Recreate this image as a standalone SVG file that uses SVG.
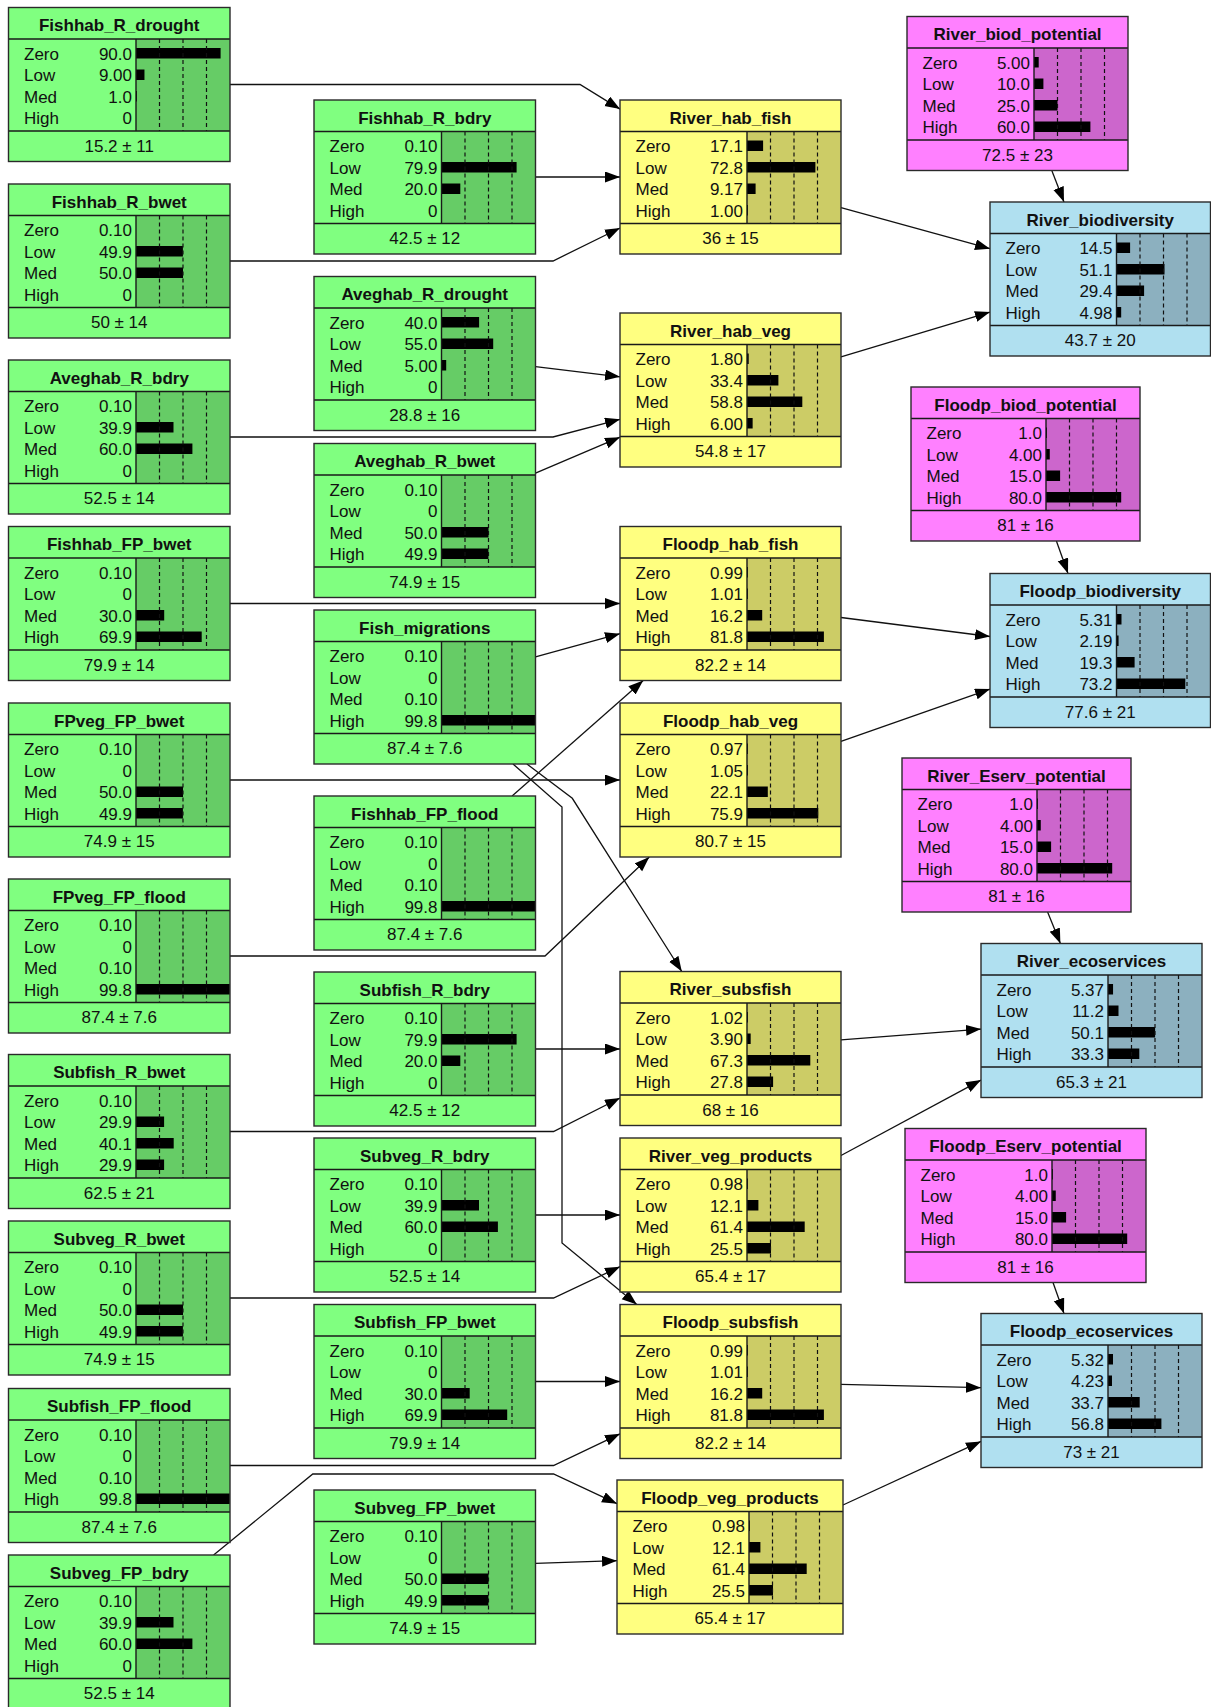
<svg xmlns="http://www.w3.org/2000/svg" width="1211" height="1707" viewBox="0 0 1211 1707">
<defs>
<style>
text{font-family:"Liberation Sans",Arial,sans-serif;font-size:17px;fill:#111}
.t{font-weight:bold;text-anchor:middle}
.v{text-anchor:end}
.f{text-anchor:middle}
.frame{fill:none;stroke:#2a2a2a;stroke-width:1.4}
.sep{fill:none;stroke:#1a1a1a;stroke-width:1.4}
.dash{fill:none;stroke:#111;stroke-width:1.2;stroke-dasharray:4 3}
.bar{fill:#000}
.green .bg{fill:#80ff80}.green .ba{fill:#66cc66}
.yellow .bg{fill:#ffff80}.yellow .ba{fill:#cccc66}
.pink .bg{fill:#ff80ff}.pink .ba{fill:#cc66cc}
.blue .bg{fill:#b0e0f0}.blue .ba{fill:#8cb0bf}
.link{fill:none;stroke:#111;stroke-width:1.3;marker-end:url(#arrow)}
</style>
<marker id="arrow" markerUnits="userSpaceOnUse" markerWidth="16" markerHeight="12" refX="15" refY="5.5" orient="auto"><path d="M0,0L15,5.5L0,11z" fill="#000"/></marker>
</defs>
<rect width="1211" height="1707" fill="#fff"/>

<!-- links between nodes -->
<g id="links">
<path class="link" d="M230,84.5H580L620,109.1"/>
<path class="link" d="M535.5,177H620"/>
<path class="link" d="M230,261H553L620,228"/>
<path class="link" d="M841,207.7L990,248.7"/>
<path class="link" d="M841,356.8L990,312.1"/>
<path class="link" d="M1051.8,170.5L1064,202"/>
<path class="link" d="M535.5,366.7L620,376.8"/>
<path class="link" d="M230,437H553L620,419.3"/>
<path class="link" d="M535.5,473.2L620,437.2"/>
<path class="link" d="M230,603.5H620"/>
<path class="link" d="M535.5,656.8L620,633.7"/>
<path class="link" d="M512.1,796L643.2,680.5"/>
<path class="link" d="M841,617.5L990,636.5"/>
<path class="link" d="M841,741.3L990,689.1"/>
<path class="link" d="M1056.4,541L1068,573.5"/>
<path class="link" d="M230,780H620"/>
<path class="link" d="M230,956H545L649.3,857"/>
<path class="link" d="M526.9,764L572.3,798.3L681.8,971.5"/>
<path class="link" d="M513,764L562,807V1243L636.8,1304.5"/>
<path class="link" d="M535.5,1049H620"/>
<path class="link" d="M230,1131.5H553.5L620,1098"/>
<path class="link" d="M841,1039.9L981,1029.1"/>
<path class="link" d="M841,1155.5L981,1080.1"/>
<path class="link" d="M1047.6,912L1060.4,943.5"/>
<path class="link" d="M535.5,1215H620"/>
<path class="link" d="M230,1298H553.5L620,1266.7"/>
<path class="link" d="M535.5,1381.5H620"/>
<path class="link" d="M230,1465.5H553.5L620,1433.8"/>
<path class="link" d="M213.6,1555L312.8,1474H553.5L617,1503.7"/>
<path class="link" d="M535.5,1563.4L617,1560.7"/>
<path class="link" d="M841,1384.3L981,1387.7"/>
<path class="link" d="M843,1505L981,1441.4"/>
<path class="link" d="M1053,1282.5L1064,1313.5"/>
</g>

<!-- input nodes, left column -->
<g id="Fishhab_R_drought" class="green" transform="translate(8.5,7.5)">
<rect class="bg" width="221.5" height="154"/><rect class="ba" x="127.5" y="31.5" width="94" height="92"/>
<rect class="bar" x="127.5" y="40.5" width="84.6" height="10.5"/><rect class="bar" x="127.5" y="62" width="8.46" height="10.5"/><rect class="bar" x="127.5" y="83.5" width="0.94" height="10.5"/>
<path class="dash" d="M151,31.5V123.5M174.5,31.5V123.5M198,31.5V123.5"/>
<path class="sep" d="M0,31.5H221.5M0,123.5H221.5M127.5,31.5V123.5"/><rect class="frame" width="221.5" height="154"/>
<text class="t" x="110.75" y="23.5">Fishhab_R_drought</text>
<text><tspan x="15.5" y="52">Zero</tspan><tspan x="15.5" y="73.5">Low</tspan><tspan x="15.5" y="95">Med</tspan><tspan x="15.5" y="116.5">High</tspan></text>
<text class="v"><tspan x="123.5" y="52">90.0</tspan><tspan x="123.5" y="73.5">9.00</tspan><tspan x="123.5" y="95">1.0</tspan><tspan x="123.5" y="116.5">0</tspan></text>
<text class="f" x="110.75" y="144">15.2 ± 11</text>
</g>

<g id="Fishhab_R_bwet" class="green" transform="translate(8.5,184)">
<rect class="bg" width="221.5" height="154"/><rect class="ba" x="127.5" y="31.5" width="94" height="92"/>
<rect class="bar" x="127.5" y="62" width="46.9" height="10.5"/><rect class="bar" x="127.5" y="83.5" width="47" height="10.5"/>
<path class="dash" d="M151,31.5V123.5M174.5,31.5V123.5M198,31.5V123.5"/>
<path class="sep" d="M0,31.5H221.5M0,123.5H221.5M127.5,31.5V123.5"/><rect class="frame" width="221.5" height="154"/>
<text class="t" x="110.75" y="23.5">Fishhab_R_bwet</text>
<text><tspan x="15.5" y="52">Zero</tspan><tspan x="15.5" y="73.5">Low</tspan><tspan x="15.5" y="95">Med</tspan><tspan x="15.5" y="116.5">High</tspan></text>
<text class="v"><tspan x="123.5" y="52">0.10</tspan><tspan x="123.5" y="73.5">49.9</tspan><tspan x="123.5" y="95">50.0</tspan><tspan x="123.5" y="116.5">0</tspan></text>
<text class="f" x="110.75" y="144">50 ± 14</text>
</g>

<g id="Aveghab_R_bdry" class="green" transform="translate(8.5,360)">
<rect class="bg" width="221.5" height="154"/><rect class="ba" x="127.5" y="31.5" width="94" height="92"/>
<rect class="bar" x="127.5" y="62" width="37.5" height="10.5"/><rect class="bar" x="127.5" y="83.5" width="56.4" height="10.5"/>
<path class="dash" d="M151,31.5V123.5M174.5,31.5V123.5M198,31.5V123.5"/>
<path class="sep" d="M0,31.5H221.5M0,123.5H221.5M127.5,31.5V123.5"/><rect class="frame" width="221.5" height="154"/>
<text class="t" x="110.75" y="23.5">Aveghab_R_bdry</text>
<text><tspan x="15.5" y="52">Zero</tspan><tspan x="15.5" y="73.5">Low</tspan><tspan x="15.5" y="95">Med</tspan><tspan x="15.5" y="116.5">High</tspan></text>
<text class="v"><tspan x="123.5" y="52">0.10</tspan><tspan x="123.5" y="73.5">39.9</tspan><tspan x="123.5" y="95">60.0</tspan><tspan x="123.5" y="116.5">0</tspan></text>
<text class="f" x="110.75" y="144">52.5 ± 14</text>
</g>

<g id="Fishhab_FP_bwet" class="green" transform="translate(8.5,526.5)">
<rect class="bg" width="221.5" height="154"/><rect class="ba" x="127.5" y="31.5" width="94" height="92"/>
<rect class="bar" x="127.5" y="83.5" width="28.2" height="10.5"/><rect class="bar" x="127.5" y="105" width="65.7" height="10.5"/>
<path class="dash" d="M151,31.5V123.5M174.5,31.5V123.5M198,31.5V123.5"/>
<path class="sep" d="M0,31.5H221.5M0,123.5H221.5M127.5,31.5V123.5"/><rect class="frame" width="221.5" height="154"/>
<text class="t" x="110.75" y="23.5">Fishhab_FP_bwet</text>
<text><tspan x="15.5" y="52">Zero</tspan><tspan x="15.5" y="73.5">Low</tspan><tspan x="15.5" y="95">Med</tspan><tspan x="15.5" y="116.5">High</tspan></text>
<text class="v"><tspan x="123.5" y="52">0.10</tspan><tspan x="123.5" y="73.5">0</tspan><tspan x="123.5" y="95">30.0</tspan><tspan x="123.5" y="116.5">69.9</tspan></text>
<text class="f" x="110.75" y="144">79.9 ± 14</text>
</g>

<g id="FPveg_FP_bwet" class="green" transform="translate(8.5,703)">
<rect class="bg" width="221.5" height="154"/><rect class="ba" x="127.5" y="31.5" width="94" height="92"/>
<rect class="bar" x="127.5" y="83.5" width="47" height="10.5"/><rect class="bar" x="127.5" y="105" width="46.9" height="10.5"/>
<path class="dash" d="M151,31.5V123.5M174.5,31.5V123.5M198,31.5V123.5"/>
<path class="sep" d="M0,31.5H221.5M0,123.5H221.5M127.5,31.5V123.5"/><rect class="frame" width="221.5" height="154"/>
<text class="t" x="110.75" y="23.5">FPveg_FP_bwet</text>
<text><tspan x="15.5" y="52">Zero</tspan><tspan x="15.5" y="73.5">Low</tspan><tspan x="15.5" y="95">Med</tspan><tspan x="15.5" y="116.5">High</tspan></text>
<text class="v"><tspan x="123.5" y="52">0.10</tspan><tspan x="123.5" y="73.5">0</tspan><tspan x="123.5" y="95">50.0</tspan><tspan x="123.5" y="116.5">49.9</tspan></text>
<text class="f" x="110.75" y="144">74.9 ± 15</text>
</g>

<g id="FPveg_FP_flood" class="green" transform="translate(8.5,879)">
<rect class="bg" width="221.5" height="154"/><rect class="ba" x="127.5" y="31.5" width="94" height="92"/>
<rect class="bar" x="127.5" y="105" width="93.8" height="10.5"/>
<path class="dash" d="M151,31.5V123.5M174.5,31.5V123.5M198,31.5V123.5"/>
<path class="sep" d="M0,31.5H221.5M0,123.5H221.5M127.5,31.5V123.5"/><rect class="frame" width="221.5" height="154"/>
<text class="t" x="110.75" y="23.5">FPveg_FP_flood</text>
<text><tspan x="15.5" y="52">Zero</tspan><tspan x="15.5" y="73.5">Low</tspan><tspan x="15.5" y="95">Med</tspan><tspan x="15.5" y="116.5">High</tspan></text>
<text class="v"><tspan x="123.5" y="52">0.10</tspan><tspan x="123.5" y="73.5">0</tspan><tspan x="123.5" y="95">0.10</tspan><tspan x="123.5" y="116.5">99.8</tspan></text>
<text class="f" x="110.75" y="144">87.4 ± 7.6</text>
</g>

<g id="Subfish_R_bwet" class="green" transform="translate(8.5,1054.5)">
<rect class="bg" width="221.5" height="154"/><rect class="ba" x="127.5" y="31.5" width="94" height="92"/>
<rect class="bar" x="127.5" y="62" width="28.1" height="10.5"/><rect class="bar" x="127.5" y="83.5" width="37.7" height="10.5"/><rect class="bar" x="127.5" y="105" width="28.1" height="10.5"/>
<path class="dash" d="M151,31.5V123.5M174.5,31.5V123.5M198,31.5V123.5"/>
<path class="sep" d="M0,31.5H221.5M0,123.5H221.5M127.5,31.5V123.5"/><rect class="frame" width="221.5" height="154"/>
<text class="t" x="110.75" y="23.5">Subfish_R_bwet</text>
<text><tspan x="15.5" y="52">Zero</tspan><tspan x="15.5" y="73.5">Low</tspan><tspan x="15.5" y="95">Med</tspan><tspan x="15.5" y="116.5">High</tspan></text>
<text class="v"><tspan x="123.5" y="52">0.10</tspan><tspan x="123.5" y="73.5">29.9</tspan><tspan x="123.5" y="95">40.1</tspan><tspan x="123.5" y="116.5">29.9</tspan></text>
<text class="f" x="110.75" y="144">62.5 ± 21</text>
</g>

<g id="Subveg_R_bwet" class="green" transform="translate(8.5,1221)">
<rect class="bg" width="221.5" height="154"/><rect class="ba" x="127.5" y="31.5" width="94" height="92"/>
<rect class="bar" x="127.5" y="83.5" width="47" height="10.5"/><rect class="bar" x="127.5" y="105" width="46.9" height="10.5"/>
<path class="dash" d="M151,31.5V123.5M174.5,31.5V123.5M198,31.5V123.5"/>
<path class="sep" d="M0,31.5H221.5M0,123.5H221.5M127.5,31.5V123.5"/><rect class="frame" width="221.5" height="154"/>
<text class="t" x="110.75" y="23.5">Subveg_R_bwet</text>
<text><tspan x="15.5" y="52">Zero</tspan><tspan x="15.5" y="73.5">Low</tspan><tspan x="15.5" y="95">Med</tspan><tspan x="15.5" y="116.5">High</tspan></text>
<text class="v"><tspan x="123.5" y="52">0.10</tspan><tspan x="123.5" y="73.5">0</tspan><tspan x="123.5" y="95">50.0</tspan><tspan x="123.5" y="116.5">49.9</tspan></text>
<text class="f" x="110.75" y="144">74.9 ± 15</text>
</g>

<g id="Subfish_FP_flood" class="green" transform="translate(8.5,1388.5)">
<rect class="bg" width="221.5" height="154"/><rect class="ba" x="127.5" y="31.5" width="94" height="92"/>
<rect class="bar" x="127.5" y="105" width="93.8" height="10.5"/>
<path class="dash" d="M151,31.5V123.5M174.5,31.5V123.5M198,31.5V123.5"/>
<path class="sep" d="M0,31.5H221.5M0,123.5H221.5M127.5,31.5V123.5"/><rect class="frame" width="221.5" height="154"/>
<text class="t" x="110.75" y="23.5">Subfish_FP_flood</text>
<text><tspan x="15.5" y="52">Zero</tspan><tspan x="15.5" y="73.5">Low</tspan><tspan x="15.5" y="95">Med</tspan><tspan x="15.5" y="116.5">High</tspan></text>
<text class="v"><tspan x="123.5" y="52">0.10</tspan><tspan x="123.5" y="73.5">0</tspan><tspan x="123.5" y="95">0.10</tspan><tspan x="123.5" y="116.5">99.8</tspan></text>
<text class="f" x="110.75" y="144">87.4 ± 7.6</text>
</g>

<g id="Subveg_FP_bdry" class="green" transform="translate(8.5,1555)">
<rect class="bg" width="221.5" height="154"/><rect class="ba" x="127.5" y="31.5" width="94" height="92"/>
<rect class="bar" x="127.5" y="62" width="37.5" height="10.5"/><rect class="bar" x="127.5" y="83.5" width="56.4" height="10.5"/>
<path class="dash" d="M151,31.5V123.5M174.5,31.5V123.5M198,31.5V123.5"/>
<path class="sep" d="M0,31.5H221.5M0,123.5H221.5M127.5,31.5V123.5"/><rect class="frame" width="221.5" height="154"/>
<text class="t" x="110.75" y="23.5">Subveg_FP_bdry</text>
<text><tspan x="15.5" y="52">Zero</tspan><tspan x="15.5" y="73.5">Low</tspan><tspan x="15.5" y="95">Med</tspan><tspan x="15.5" y="116.5">High</tspan></text>
<text class="v"><tspan x="123.5" y="52">0.10</tspan><tspan x="123.5" y="73.5">39.9</tspan><tspan x="123.5" y="95">60.0</tspan><tspan x="123.5" y="116.5">0</tspan></text>
<text class="f" x="110.75" y="144">52.5 ± 14</text>
</g>

<!-- input nodes, second column -->
<g id="Fishhab_R_bdry" class="green" transform="translate(314,100)">
<rect class="bg" width="221.5" height="154"/><rect class="ba" x="127.5" y="31.5" width="94" height="92"/>
<rect class="bar" x="127.5" y="62" width="75.1" height="10.5"/><rect class="bar" x="127.5" y="83.5" width="18.8" height="10.5"/>
<path class="dash" d="M151,31.5V123.5M174.5,31.5V123.5M198,31.5V123.5"/>
<path class="sep" d="M0,31.5H221.5M0,123.5H221.5M127.5,31.5V123.5"/><rect class="frame" width="221.5" height="154"/>
<text class="t" x="110.75" y="23.5">Fishhab_R_bdry</text>
<text><tspan x="15.5" y="52">Zero</tspan><tspan x="15.5" y="73.5">Low</tspan><tspan x="15.5" y="95">Med</tspan><tspan x="15.5" y="116.5">High</tspan></text>
<text class="v"><tspan x="123.5" y="52">0.10</tspan><tspan x="123.5" y="73.5">79.9</tspan><tspan x="123.5" y="95">20.0</tspan><tspan x="123.5" y="116.5">0</tspan></text>
<text class="f" x="110.75" y="144">42.5 ± 12</text>
</g>

<g id="Aveghab_R_drought" class="green" transform="translate(314,276.5)">
<rect class="bg" width="221.5" height="154"/><rect class="ba" x="127.5" y="31.5" width="94" height="92"/>
<rect class="bar" x="127.5" y="40.5" width="37.6" height="10.5"/><rect class="bar" x="127.5" y="62" width="51.7" height="10.5"/><rect class="bar" x="127.5" y="83.5" width="4.7" height="10.5"/>
<path class="dash" d="M151,31.5V123.5M174.5,31.5V123.5M198,31.5V123.5"/>
<path class="sep" d="M0,31.5H221.5M0,123.5H221.5M127.5,31.5V123.5"/><rect class="frame" width="221.5" height="154"/>
<text class="t" x="110.75" y="23.5">Aveghab_R_drought</text>
<text><tspan x="15.5" y="52">Zero</tspan><tspan x="15.5" y="73.5">Low</tspan><tspan x="15.5" y="95">Med</tspan><tspan x="15.5" y="116.5">High</tspan></text>
<text class="v"><tspan x="123.5" y="52">40.0</tspan><tspan x="123.5" y="73.5">55.0</tspan><tspan x="123.5" y="95">5.00</tspan><tspan x="123.5" y="116.5">0</tspan></text>
<text class="f" x="110.75" y="144">28.8 ± 16</text>
</g>

<g id="Aveghab_R_bwet" class="green" transform="translate(314,443.5)">
<rect class="bg" width="221.5" height="154"/><rect class="ba" x="127.5" y="31.5" width="94" height="92"/>
<rect class="bar" x="127.5" y="83.5" width="47" height="10.5"/><rect class="bar" x="127.5" y="105" width="46.9" height="10.5"/>
<path class="dash" d="M151,31.5V123.5M174.5,31.5V123.5M198,31.5V123.5"/>
<path class="sep" d="M0,31.5H221.5M0,123.5H221.5M127.5,31.5V123.5"/><rect class="frame" width="221.5" height="154"/>
<text class="t" x="110.75" y="23.5">Aveghab_R_bwet</text>
<text><tspan x="15.5" y="52">Zero</tspan><tspan x="15.5" y="73.5">Low</tspan><tspan x="15.5" y="95">Med</tspan><tspan x="15.5" y="116.5">High</tspan></text>
<text class="v"><tspan x="123.5" y="52">0.10</tspan><tspan x="123.5" y="73.5">0</tspan><tspan x="123.5" y="95">50.0</tspan><tspan x="123.5" y="116.5">49.9</tspan></text>
<text class="f" x="110.75" y="144">74.9 ± 15</text>
</g>

<g id="Fish_migrations" class="green" transform="translate(314,610)">
<rect class="bg" width="221.5" height="154"/><rect class="ba" x="127.5" y="31.5" width="94" height="92"/>
<rect class="bar" x="127.5" y="105" width="93.8" height="10.5"/>
<path class="dash" d="M151,31.5V123.5M174.5,31.5V123.5M198,31.5V123.5"/>
<path class="sep" d="M0,31.5H221.5M0,123.5H221.5M127.5,31.5V123.5"/><rect class="frame" width="221.5" height="154"/>
<text class="t" x="110.75" y="23.5">Fish_migrations</text>
<text><tspan x="15.5" y="52">Zero</tspan><tspan x="15.5" y="73.5">Low</tspan><tspan x="15.5" y="95">Med</tspan><tspan x="15.5" y="116.5">High</tspan></text>
<text class="v"><tspan x="123.5" y="52">0.10</tspan><tspan x="123.5" y="73.5">0</tspan><tspan x="123.5" y="95">0.10</tspan><tspan x="123.5" y="116.5">99.8</tspan></text>
<text class="f" x="110.75" y="144">87.4 ± 7.6</text>
</g>

<g id="Fishhab_FP_flood" class="green" transform="translate(314,796)">
<rect class="bg" width="221.5" height="154"/><rect class="ba" x="127.5" y="31.5" width="94" height="92"/>
<rect class="bar" x="127.5" y="105" width="93.8" height="10.5"/>
<path class="dash" d="M151,31.5V123.5M174.5,31.5V123.5M198,31.5V123.5"/>
<path class="sep" d="M0,31.5H221.5M0,123.5H221.5M127.5,31.5V123.5"/><rect class="frame" width="221.5" height="154"/>
<text class="t" x="110.75" y="23.5">Fishhab_FP_flood</text>
<text><tspan x="15.5" y="52">Zero</tspan><tspan x="15.5" y="73.5">Low</tspan><tspan x="15.5" y="95">Med</tspan><tspan x="15.5" y="116.5">High</tspan></text>
<text class="v"><tspan x="123.5" y="52">0.10</tspan><tspan x="123.5" y="73.5">0</tspan><tspan x="123.5" y="95">0.10</tspan><tspan x="123.5" y="116.5">99.8</tspan></text>
<text class="f" x="110.75" y="144">87.4 ± 7.6</text>
</g>

<g id="Subfish_R_bdry" class="green" transform="translate(314,972)">
<rect class="bg" width="221.5" height="154"/><rect class="ba" x="127.5" y="31.5" width="94" height="92"/>
<rect class="bar" x="127.5" y="62" width="75.1" height="10.5"/><rect class="bar" x="127.5" y="83.5" width="18.8" height="10.5"/>
<path class="dash" d="M151,31.5V123.5M174.5,31.5V123.5M198,31.5V123.5"/>
<path class="sep" d="M0,31.5H221.5M0,123.5H221.5M127.5,31.5V123.5"/><rect class="frame" width="221.5" height="154"/>
<text class="t" x="110.75" y="23.5">Subfish_R_bdry</text>
<text><tspan x="15.5" y="52">Zero</tspan><tspan x="15.5" y="73.5">Low</tspan><tspan x="15.5" y="95">Med</tspan><tspan x="15.5" y="116.5">High</tspan></text>
<text class="v"><tspan x="123.5" y="52">0.10</tspan><tspan x="123.5" y="73.5">79.9</tspan><tspan x="123.5" y="95">20.0</tspan><tspan x="123.5" y="116.5">0</tspan></text>
<text class="f" x="110.75" y="144">42.5 ± 12</text>
</g>

<g id="Subveg_R_bdry" class="green" transform="translate(314,1138)">
<rect class="bg" width="221.5" height="154"/><rect class="ba" x="127.5" y="31.5" width="94" height="92"/>
<rect class="bar" x="127.5" y="62" width="37.5" height="10.5"/><rect class="bar" x="127.5" y="83.5" width="56.4" height="10.5"/>
<path class="dash" d="M151,31.5V123.5M174.5,31.5V123.5M198,31.5V123.5"/>
<path class="sep" d="M0,31.5H221.5M0,123.5H221.5M127.5,31.5V123.5"/><rect class="frame" width="221.5" height="154"/>
<text class="t" x="110.75" y="23.5">Subveg_R_bdry</text>
<text><tspan x="15.5" y="52">Zero</tspan><tspan x="15.5" y="73.5">Low</tspan><tspan x="15.5" y="95">Med</tspan><tspan x="15.5" y="116.5">High</tspan></text>
<text class="v"><tspan x="123.5" y="52">0.10</tspan><tspan x="123.5" y="73.5">39.9</tspan><tspan x="123.5" y="95">60.0</tspan><tspan x="123.5" y="116.5">0</tspan></text>
<text class="f" x="110.75" y="144">52.5 ± 14</text>
</g>

<g id="Subfish_FP_bwet" class="green" transform="translate(314,1304.5)">
<rect class="bg" width="221.5" height="154"/><rect class="ba" x="127.5" y="31.5" width="94" height="92"/>
<rect class="bar" x="127.5" y="83.5" width="28.2" height="10.5"/><rect class="bar" x="127.5" y="105" width="65.7" height="10.5"/>
<path class="dash" d="M151,31.5V123.5M174.5,31.5V123.5M198,31.5V123.5"/>
<path class="sep" d="M0,31.5H221.5M0,123.5H221.5M127.5,31.5V123.5"/><rect class="frame" width="221.5" height="154"/>
<text class="t" x="110.75" y="23.5">Subfish_FP_bwet</text>
<text><tspan x="15.5" y="52">Zero</tspan><tspan x="15.5" y="73.5">Low</tspan><tspan x="15.5" y="95">Med</tspan><tspan x="15.5" y="116.5">High</tspan></text>
<text class="v"><tspan x="123.5" y="52">0.10</tspan><tspan x="123.5" y="73.5">0</tspan><tspan x="123.5" y="95">30.0</tspan><tspan x="123.5" y="116.5">69.9</tspan></text>
<text class="f" x="110.75" y="144">79.9 ± 14</text>
</g>

<g id="Subveg_FP_bwet" class="green" transform="translate(314,1490)">
<rect class="bg" width="221.5" height="154"/><rect class="ba" x="127.5" y="31.5" width="94" height="92"/>
<rect class="bar" x="127.5" y="83.5" width="47" height="10.5"/><rect class="bar" x="127.5" y="105" width="46.9" height="10.5"/>
<path class="dash" d="M151,31.5V123.5M174.5,31.5V123.5M198,31.5V123.5"/>
<path class="sep" d="M0,31.5H221.5M0,123.5H221.5M127.5,31.5V123.5"/><rect class="frame" width="221.5" height="154"/>
<text class="t" x="110.75" y="23.5">Subveg_FP_bwet</text>
<text><tspan x="15.5" y="52">Zero</tspan><tspan x="15.5" y="73.5">Low</tspan><tspan x="15.5" y="95">Med</tspan><tspan x="15.5" y="116.5">High</tspan></text>
<text class="v"><tspan x="123.5" y="52">0.10</tspan><tspan x="123.5" y="73.5">0</tspan><tspan x="123.5" y="95">50.0</tspan><tspan x="123.5" y="116.5">49.9</tspan></text>
<text class="f" x="110.75" y="144">74.9 ± 15</text>
</g>

<!-- habitat and product nodes -->
<g id="River_hab_fish" class="yellow" transform="translate(620,100)">
<rect class="bg" width="221" height="154"/><rect class="ba" x="127" y="31.5" width="94" height="92"/>
<rect class="bar" x="127" y="40.5" width="16.1" height="10.5"/><rect class="bar" x="127" y="62" width="68.4" height="10.5"/><rect class="bar" x="127" y="83.5" width="8.6" height="10.5"/><rect class="bar" x="127" y="105" width="0.94" height="10.5"/>
<path class="dash" d="M150.5,31.5V123.5M174,31.5V123.5M197.5,31.5V123.5"/>
<path class="sep" d="M0,31.5H221M0,123.5H221M127,31.5V123.5"/><rect class="frame" width="221" height="154"/>
<text class="t" x="110.5" y="23.5">River_hab_fish</text>
<text><tspan x="15.5" y="52">Zero</tspan><tspan x="15.5" y="73.5">Low</tspan><tspan x="15.5" y="95">Med</tspan><tspan x="15.5" y="116.5">High</tspan></text>
<text class="v"><tspan x="123" y="52">17.1</tspan><tspan x="123" y="73.5">72.8</tspan><tspan x="123" y="95">9.17</tspan><tspan x="123" y="116.5">1.00</tspan></text>
<text class="f" x="110.5" y="144">36 ± 15</text>
</g>

<g id="River_hab_veg" class="yellow" transform="translate(620,313)">
<rect class="bg" width="221" height="154"/><rect class="ba" x="127" y="31.5" width="94" height="92"/>
<rect class="bar" x="127" y="40.5" width="1.7" height="10.5"/><rect class="bar" x="127" y="62" width="31.4" height="10.5"/><rect class="bar" x="127" y="83.5" width="55.3" height="10.5"/><rect class="bar" x="127" y="105" width="5.64" height="10.5"/>
<path class="dash" d="M150.5,31.5V123.5M174,31.5V123.5M197.5,31.5V123.5"/>
<path class="sep" d="M0,31.5H221M0,123.5H221M127,31.5V123.5"/><rect class="frame" width="221" height="154"/>
<text class="t" x="110.5" y="23.5">River_hab_veg</text>
<text><tspan x="15.5" y="52">Zero</tspan><tspan x="15.5" y="73.5">Low</tspan><tspan x="15.5" y="95">Med</tspan><tspan x="15.5" y="116.5">High</tspan></text>
<text class="v"><tspan x="123" y="52">1.80</tspan><tspan x="123" y="73.5">33.4</tspan><tspan x="123" y="95">58.8</tspan><tspan x="123" y="116.5">6.00</tspan></text>
<text class="f" x="110.5" y="144">54.8 ± 17</text>
</g>

<g id="Floodp_hab_fish" class="yellow" transform="translate(620,526.5)">
<rect class="bg" width="221" height="154"/><rect class="ba" x="127" y="31.5" width="94" height="92"/>
<rect class="bar" x="127" y="40.5" width="0.93" height="10.5"/><rect class="bar" x="127" y="62" width="0.95" height="10.5"/><rect class="bar" x="127" y="83.5" width="15.2" height="10.5"/><rect class="bar" x="127" y="105" width="76.9" height="10.5"/>
<path class="dash" d="M150.5,31.5V123.5M174,31.5V123.5M197.5,31.5V123.5"/>
<path class="sep" d="M0,31.5H221M0,123.5H221M127,31.5V123.5"/><rect class="frame" width="221" height="154"/>
<text class="t" x="110.5" y="23.5">Floodp_hab_fish</text>
<text><tspan x="15.5" y="52">Zero</tspan><tspan x="15.5" y="73.5">Low</tspan><tspan x="15.5" y="95">Med</tspan><tspan x="15.5" y="116.5">High</tspan></text>
<text class="v"><tspan x="123" y="52">0.99</tspan><tspan x="123" y="73.5">1.01</tspan><tspan x="123" y="95">16.2</tspan><tspan x="123" y="116.5">81.8</tspan></text>
<text class="f" x="110.5" y="144">82.2 ± 14</text>
</g>

<g id="Floodp_hab_veg" class="yellow" transform="translate(620,703)">
<rect class="bg" width="221" height="154"/><rect class="ba" x="127" y="31.5" width="94" height="92"/>
<rect class="bar" x="127" y="40.5" width="0.91" height="10.5"/><rect class="bar" x="127" y="62" width="0.99" height="10.5"/><rect class="bar" x="127" y="83.5" width="20.8" height="10.5"/><rect class="bar" x="127" y="105" width="71.3" height="10.5"/>
<path class="dash" d="M150.5,31.5V123.5M174,31.5V123.5M197.5,31.5V123.5"/>
<path class="sep" d="M0,31.5H221M0,123.5H221M127,31.5V123.5"/><rect class="frame" width="221" height="154"/>
<text class="t" x="110.5" y="23.5">Floodp_hab_veg</text>
<text><tspan x="15.5" y="52">Zero</tspan><tspan x="15.5" y="73.5">Low</tspan><tspan x="15.5" y="95">Med</tspan><tspan x="15.5" y="116.5">High</tspan></text>
<text class="v"><tspan x="123" y="52">0.97</tspan><tspan x="123" y="73.5">1.05</tspan><tspan x="123" y="95">22.1</tspan><tspan x="123" y="116.5">75.9</tspan></text>
<text class="f" x="110.5" y="144">80.7 ± 15</text>
</g>

<g id="River_subsfish" class="yellow" transform="translate(620,971.5)">
<rect class="bg" width="221" height="154"/><rect class="ba" x="127" y="31.5" width="94" height="92"/>
<rect class="bar" x="127" y="40.5" width="0.96" height="10.5"/><rect class="bar" x="127" y="62" width="3.67" height="10.5"/><rect class="bar" x="127" y="83.5" width="63.3" height="10.5"/><rect class="bar" x="127" y="105" width="26.1" height="10.5"/>
<path class="dash" d="M150.5,31.5V123.5M174,31.5V123.5M197.5,31.5V123.5"/>
<path class="sep" d="M0,31.5H221M0,123.5H221M127,31.5V123.5"/><rect class="frame" width="221" height="154"/>
<text class="t" x="110.5" y="23.5">River_subsfish</text>
<text><tspan x="15.5" y="52">Zero</tspan><tspan x="15.5" y="73.5">Low</tspan><tspan x="15.5" y="95">Med</tspan><tspan x="15.5" y="116.5">High</tspan></text>
<text class="v"><tspan x="123" y="52">1.02</tspan><tspan x="123" y="73.5">3.90</tspan><tspan x="123" y="95">67.3</tspan><tspan x="123" y="116.5">27.8</tspan></text>
<text class="f" x="110.5" y="144">68 ± 16</text>
</g>

<g id="River_veg_products" class="yellow" transform="translate(620,1138)">
<rect class="bg" width="221" height="154"/><rect class="ba" x="127" y="31.5" width="94" height="92"/>
<rect class="bar" x="127" y="40.5" width="0.92" height="10.5"/><rect class="bar" x="127" y="62" width="11.4" height="10.5"/><rect class="bar" x="127" y="83.5" width="57.7" height="10.5"/><rect class="bar" x="127" y="105" width="24" height="10.5"/>
<path class="dash" d="M150.5,31.5V123.5M174,31.5V123.5M197.5,31.5V123.5"/>
<path class="sep" d="M0,31.5H221M0,123.5H221M127,31.5V123.5"/><rect class="frame" width="221" height="154"/>
<text class="t" x="110.5" y="23.5">River_veg_products</text>
<text><tspan x="15.5" y="52">Zero</tspan><tspan x="15.5" y="73.5">Low</tspan><tspan x="15.5" y="95">Med</tspan><tspan x="15.5" y="116.5">High</tspan></text>
<text class="v"><tspan x="123" y="52">0.98</tspan><tspan x="123" y="73.5">12.1</tspan><tspan x="123" y="95">61.4</tspan><tspan x="123" y="116.5">25.5</tspan></text>
<text class="f" x="110.5" y="144">65.4 ± 17</text>
</g>

<g id="Floodp_subsfish" class="yellow" transform="translate(620,1304.5)">
<rect class="bg" width="221" height="154"/><rect class="ba" x="127" y="31.5" width="94" height="92"/>
<rect class="bar" x="127" y="40.5" width="0.93" height="10.5"/><rect class="bar" x="127" y="62" width="0.95" height="10.5"/><rect class="bar" x="127" y="83.5" width="15.2" height="10.5"/><rect class="bar" x="127" y="105" width="76.9" height="10.5"/>
<path class="dash" d="M150.5,31.5V123.5M174,31.5V123.5M197.5,31.5V123.5"/>
<path class="sep" d="M0,31.5H221M0,123.5H221M127,31.5V123.5"/><rect class="frame" width="221" height="154"/>
<text class="t" x="110.5" y="23.5">Floodp_subsfish</text>
<text><tspan x="15.5" y="52">Zero</tspan><tspan x="15.5" y="73.5">Low</tspan><tspan x="15.5" y="95">Med</tspan><tspan x="15.5" y="116.5">High</tspan></text>
<text class="v"><tspan x="123" y="52">0.99</tspan><tspan x="123" y="73.5">1.01</tspan><tspan x="123" y="95">16.2</tspan><tspan x="123" y="116.5">81.8</tspan></text>
<text class="f" x="110.5" y="144">82.2 ± 14</text>
</g>

<g id="Floodp_veg_products" class="yellow" transform="translate(617,1480)">
<rect class="bg" width="226" height="154"/><rect class="ba" x="132" y="31.5" width="94" height="92"/>
<rect class="bar" x="132" y="40.5" width="0.92" height="10.5"/><rect class="bar" x="132" y="62" width="11.4" height="10.5"/><rect class="bar" x="132" y="83.5" width="57.7" height="10.5"/><rect class="bar" x="132" y="105" width="24" height="10.5"/>
<path class="dash" d="M155.5,31.5V123.5M179,31.5V123.5M202.5,31.5V123.5"/>
<path class="sep" d="M0,31.5H226M0,123.5H226M132,31.5V123.5"/><rect class="frame" width="226" height="154"/>
<text class="t" x="113" y="23.5">Floodp_veg_products</text>
<text><tspan x="15.5" y="52">Zero</tspan><tspan x="15.5" y="73.5">Low</tspan><tspan x="15.5" y="95">Med</tspan><tspan x="15.5" y="116.5">High</tspan></text>
<text class="v"><tspan x="128" y="52">0.98</tspan><tspan x="128" y="73.5">12.1</tspan><tspan x="128" y="95">61.4</tspan><tspan x="128" y="116.5">25.5</tspan></text>
<text class="f" x="113" y="144">65.4 ± 17</text>
</g>

<!-- potential nodes -->
<g id="River_biod_potential" class="pink" transform="translate(907,16.5)">
<rect class="bg" width="221" height="154"/><rect class="ba" x="127" y="31.5" width="94" height="92"/>
<rect class="bar" x="127" y="40.5" width="4.7" height="10.5"/><rect class="bar" x="127" y="62" width="9.4" height="10.5"/><rect class="bar" x="127" y="83.5" width="23.5" height="10.5"/><rect class="bar" x="127" y="105" width="56.4" height="10.5"/>
<path class="dash" d="M150.5,31.5V123.5M174,31.5V123.5M197.5,31.5V123.5"/>
<path class="sep" d="M0,31.5H221M0,123.5H221M127,31.5V123.5"/><rect class="frame" width="221" height="154"/>
<text class="t" x="110.5" y="23.5">River_biod_potential</text>
<text><tspan x="15.5" y="52">Zero</tspan><tspan x="15.5" y="73.5">Low</tspan><tspan x="15.5" y="95">Med</tspan><tspan x="15.5" y="116.5">High</tspan></text>
<text class="v"><tspan x="123" y="52">5.00</tspan><tspan x="123" y="73.5">10.0</tspan><tspan x="123" y="95">25.0</tspan><tspan x="123" y="116.5">60.0</tspan></text>
<text class="f" x="110.5" y="144">72.5 ± 23</text>
</g>

<g id="Floodp_biod_potential" class="pink" transform="translate(911,387)">
<rect class="bg" width="229" height="154"/><rect class="ba" x="135" y="31.5" width="94" height="92"/>
<rect class="bar" x="135" y="40.5" width="0.94" height="10.5"/><rect class="bar" x="135" y="62" width="3.76" height="10.5"/><rect class="bar" x="135" y="83.5" width="14.1" height="10.5"/><rect class="bar" x="135" y="105" width="75.2" height="10.5"/>
<path class="dash" d="M158.5,31.5V123.5M182,31.5V123.5M205.5,31.5V123.5"/>
<path class="sep" d="M0,31.5H229M0,123.5H229M135,31.5V123.5"/><rect class="frame" width="229" height="154"/>
<text class="t" x="114.5" y="23.5">Floodp_biod_potential</text>
<text><tspan x="15.5" y="52">Zero</tspan><tspan x="15.5" y="73.5">Low</tspan><tspan x="15.5" y="95">Med</tspan><tspan x="15.5" y="116.5">High</tspan></text>
<text class="v"><tspan x="131" y="52">1.0</tspan><tspan x="131" y="73.5">4.00</tspan><tspan x="131" y="95">15.0</tspan><tspan x="131" y="116.5">80.0</tspan></text>
<text class="f" x="114.5" y="144">81 ± 16</text>
</g>

<g id="River_Eserv_potential" class="pink" transform="translate(902,758)">
<rect class="bg" width="229" height="154"/><rect class="ba" x="135" y="31.5" width="94" height="92"/>
<rect class="bar" x="135" y="40.5" width="0.94" height="10.5"/><rect class="bar" x="135" y="62" width="3.76" height="10.5"/><rect class="bar" x="135" y="83.5" width="14.1" height="10.5"/><rect class="bar" x="135" y="105" width="75.2" height="10.5"/>
<path class="dash" d="M158.5,31.5V123.5M182,31.5V123.5M205.5,31.5V123.5"/>
<path class="sep" d="M0,31.5H229M0,123.5H229M135,31.5V123.5"/><rect class="frame" width="229" height="154"/>
<text class="t" x="114.5" y="23.5">River_Eserv_potential</text>
<text><tspan x="15.5" y="52">Zero</tspan><tspan x="15.5" y="73.5">Low</tspan><tspan x="15.5" y="95">Med</tspan><tspan x="15.5" y="116.5">High</tspan></text>
<text class="v"><tspan x="131" y="52">1.0</tspan><tspan x="131" y="73.5">4.00</tspan><tspan x="131" y="95">15.0</tspan><tspan x="131" y="116.5">80.0</tspan></text>
<text class="f" x="114.5" y="144">81 ± 16</text>
</g>

<g id="Floodp_Eserv_potential" class="pink" transform="translate(905,1128.5)">
<rect class="bg" width="241" height="154"/><rect class="ba" x="147" y="31.5" width="94" height="92"/>
<rect class="bar" x="147" y="40.5" width="0.94" height="10.5"/><rect class="bar" x="147" y="62" width="3.76" height="10.5"/><rect class="bar" x="147" y="83.5" width="14.1" height="10.5"/><rect class="bar" x="147" y="105" width="75.2" height="10.5"/>
<path class="dash" d="M170.5,31.5V123.5M194,31.5V123.5M217.5,31.5V123.5"/>
<path class="sep" d="M0,31.5H241M0,123.5H241M147,31.5V123.5"/><rect class="frame" width="241" height="154"/>
<text class="t" x="120.5" y="23.5">Floodp_Eserv_potential</text>
<text><tspan x="15.5" y="52">Zero</tspan><tspan x="15.5" y="73.5">Low</tspan><tspan x="15.5" y="95">Med</tspan><tspan x="15.5" y="116.5">High</tspan></text>
<text class="v"><tspan x="143" y="52">1.0</tspan><tspan x="143" y="73.5">4.00</tspan><tspan x="143" y="95">15.0</tspan><tspan x="143" y="116.5">80.0</tspan></text>
<text class="f" x="120.5" y="144">81 ± 16</text>
</g>

<!-- outcome nodes -->
<g id="River_biodiversity" class="blue" transform="translate(990,202)">
<rect class="bg" width="220.5" height="154"/><rect class="ba" x="126.5" y="31.5" width="94" height="92"/>
<rect class="bar" x="126.5" y="40.5" width="13.6" height="10.5"/><rect class="bar" x="126.5" y="62" width="48" height="10.5"/><rect class="bar" x="126.5" y="83.5" width="27.6" height="10.5"/><rect class="bar" x="126.5" y="105" width="4.68" height="10.5"/>
<path class="dash" d="M150,31.5V123.5M173.5,31.5V123.5M197,31.5V123.5"/>
<path class="sep" d="M0,31.5H220.5M0,123.5H220.5M126.5,31.5V123.5"/><rect class="frame" width="220.5" height="154"/>
<text class="t" x="110.25" y="23.5">River_biodiversity</text>
<text><tspan x="15.5" y="52">Zero</tspan><tspan x="15.5" y="73.5">Low</tspan><tspan x="15.5" y="95">Med</tspan><tspan x="15.5" y="116.5">High</tspan></text>
<text class="v"><tspan x="122.5" y="52">14.5</tspan><tspan x="122.5" y="73.5">51.1</tspan><tspan x="122.5" y="95">29.4</tspan><tspan x="122.5" y="116.5">4.98</tspan></text>
<text class="f" x="110.25" y="144">43.7 ± 20</text>
</g>

<g id="Floodp_biodiversity" class="blue" transform="translate(990,573.5)">
<rect class="bg" width="220.5" height="154"/><rect class="ba" x="126.5" y="31.5" width="94" height="92"/>
<rect class="bar" x="126.5" y="40.5" width="4.99" height="10.5"/><rect class="bar" x="126.5" y="62" width="2.06" height="10.5"/><rect class="bar" x="126.5" y="83.5" width="18.1" height="10.5"/><rect class="bar" x="126.5" y="105" width="68.8" height="10.5"/>
<path class="dash" d="M150,31.5V123.5M173.5,31.5V123.5M197,31.5V123.5"/>
<path class="sep" d="M0,31.5H220.5M0,123.5H220.5M126.5,31.5V123.5"/><rect class="frame" width="220.5" height="154"/>
<text class="t" x="110.25" y="23.5">Floodp_biodiversity</text>
<text><tspan x="15.5" y="52">Zero</tspan><tspan x="15.5" y="73.5">Low</tspan><tspan x="15.5" y="95">Med</tspan><tspan x="15.5" y="116.5">High</tspan></text>
<text class="v"><tspan x="122.5" y="52">5.31</tspan><tspan x="122.5" y="73.5">2.19</tspan><tspan x="122.5" y="95">19.3</tspan><tspan x="122.5" y="116.5">73.2</tspan></text>
<text class="f" x="110.25" y="144">77.6 ± 21</text>
</g>

<g id="River_ecoservices" class="blue" transform="translate(981,943.5)">
<rect class="bg" width="221" height="154"/><rect class="ba" x="127" y="31.5" width="94" height="92"/>
<rect class="bar" x="127" y="40.5" width="5.05" height="10.5"/><rect class="bar" x="127" y="62" width="10.5" height="10.5"/><rect class="bar" x="127" y="83.5" width="47.1" height="10.5"/><rect class="bar" x="127" y="105" width="31.3" height="10.5"/>
<path class="dash" d="M150.5,31.5V123.5M174,31.5V123.5M197.5,31.5V123.5"/>
<path class="sep" d="M0,31.5H221M0,123.5H221M127,31.5V123.5"/><rect class="frame" width="221" height="154"/>
<text class="t" x="110.5" y="23.5">River_ecoservices</text>
<text><tspan x="15.5" y="52">Zero</tspan><tspan x="15.5" y="73.5">Low</tspan><tspan x="15.5" y="95">Med</tspan><tspan x="15.5" y="116.5">High</tspan></text>
<text class="v"><tspan x="123" y="52">5.37</tspan><tspan x="123" y="73.5">11.2</tspan><tspan x="123" y="95">50.1</tspan><tspan x="123" y="116.5">33.3</tspan></text>
<text class="f" x="110.5" y="144">65.3 ± 21</text>
</g>

<g id="Floodp_ecoservices" class="blue" transform="translate(981,1313.5)">
<rect class="bg" width="221" height="154"/><rect class="ba" x="127" y="31.5" width="94" height="92"/>
<rect class="bar" x="127" y="40.5" width="5" height="10.5"/><rect class="bar" x="127" y="62" width="3.98" height="10.5"/><rect class="bar" x="127" y="83.5" width="31.7" height="10.5"/><rect class="bar" x="127" y="105" width="53.4" height="10.5"/>
<path class="dash" d="M150.5,31.5V123.5M174,31.5V123.5M197.5,31.5V123.5"/>
<path class="sep" d="M0,31.5H221M0,123.5H221M127,31.5V123.5"/><rect class="frame" width="221" height="154"/>
<text class="t" x="110.5" y="23.5">Floodp_ecoservices</text>
<text><tspan x="15.5" y="52">Zero</tspan><tspan x="15.5" y="73.5">Low</tspan><tspan x="15.5" y="95">Med</tspan><tspan x="15.5" y="116.5">High</tspan></text>
<text class="v"><tspan x="123" y="52">5.32</tspan><tspan x="123" y="73.5">4.23</tspan><tspan x="123" y="95">33.7</tspan><tspan x="123" y="116.5">56.8</tspan></text>
<text class="f" x="110.5" y="144">73 ± 21</text>
</g>
</svg>
